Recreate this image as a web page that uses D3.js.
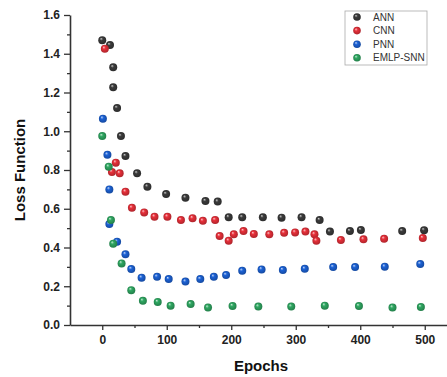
<!DOCTYPE html>
<html>
<head>
<meta charset="utf-8">
<script src="https://cdn.jsdelivr.net/npm/d3@7"></script>
<style>
  body { margin: 0; background: #fff; }
  svg { display: block; font-family: "Liberation Sans", Arial, sans-serif; }
</style>
</head>
<body>
<div id="chart"></div>
<script>
// series names + colours
const seriesNames = ['ANN', 'CNN', 'PNN', 'EMLP-SNN'];
const seriesColors = ['#3b3b3b', '#e8303a', '#1c62d6', '#2fa862'];

// values (epoch, loss)
const annEpochs = [0, 12, 17, 17, 23, 29, 36, 54, 70, 99, 129, 160, 179, 196, 217, 249, 278, 309, 337, 353, 384, 401, 465, 499];
const annLoss = [1.47, 1.445, 1.33, 1.227, 1.12, 0.975, 0.872, 0.783, 0.714, 0.676, 0.657, 0.64, 0.637, 0.556, 0.556, 0.556, 0.554, 0.556, 0.542, 0.482, 0.485, 0.49, 0.485, 0.489];

const cnnEpochs = [4, 15, 21, 27, 36, 46, 65, 81, 101, 122, 140, 156, 175, 182, 196, 204, 219, 235, 259, 282, 299, 315, 329, 332, 370, 405, 437, 497];
const cnnLoss = [1.426, 0.79, 0.838, 0.783, 0.688, 0.605, 0.581, 0.559, 0.559, 0.542, 0.551, 0.538, 0.542, 0.459, 0.435, 0.468, 0.485, 0.47, 0.468, 0.476, 0.478, 0.482, 0.468, 0.435, 0.439, 0.442, 0.445, 0.449];

const pnnEpochs = [1, 8, 11, 11, 23, 36, 45, 61, 85, 103, 129, 152, 173, 192, 217, 247, 280, 314, 358, 392, 438, 493];
const pnnLoss = [1.065, 0.879, 0.70, 0.521, 0.43, 0.365, 0.289, 0.244, 0.249, 0.237, 0.224, 0.237, 0.249, 0.258, 0.28, 0.287, 0.284, 0.29, 0.299, 0.299, 0.301, 0.315];

const snnEpochs = [0, 10, 13.5, 17, 30, 45, 63, 86, 106, 137, 164, 202, 242, 293, 345, 398, 450, 494];
const snnLoss = [0.975, 0.817, 0.542, 0.42, 0.318, 0.18, 0.125, 0.119, 0.1, 0.108, 0.09, 0.098, 0.095, 0.095, 0.1, 0.098, 0.09, 0.093];

const xTickValues = [0, 100, 200, 300, 400, 500];
const yTickValues = [0, 0.2, 0.4, 0.6, 0.8, 1.0, 1.2, 1.4, 1.6];

const allEpochs = [annEpochs, cnnEpochs, pnnEpochs, snnEpochs];
const allLoss = [annLoss, cnnLoss, pnnLoss, snnLoss];

const width = 447, height = 377;
const svg = d3.select('#chart').append('svg')
  .attr('width', width)
  .attr('height', height);

const x = d3.scaleLinear().domain([-50, 550]).range([70, 457]);
const y = d3.scaleLinear().domain([0, 1.6]).range([325, 15]);

// ball gradients
const defs = svg.append('defs');
seriesColors.forEach((c, i) => {
  const g = defs.append('radialGradient')
    .attr('id', 'ball' + i)
    .attr('cx', '0.5').attr('cy', '0.5').attr('r', '0.55')
    .attr('fx', '0.35').attr('fy', '0.3');
  g.append('stop').attr('offset', '0%').attr('stop-color', d3.interpolateRgb(c, '#fff')(0.75));
  g.append('stop').attr('offset', '35%').attr('stop-color', c);
  g.append('stop').attr('offset', '100%').attr('stop-color', d3.rgb(c).darker(0.9));
});

// axes
const axisColor = '#333';
const xAxis = svg.append('g')
  .attr('transform', 'translate(0,' + y(0) + ')')
  .call(d3.axisBottom(x).tickValues(xTickValues).tickSize(5).tickSizeOuter(0).tickPadding(5));
svg.append('g')
  .attr('transform', 'translate(0,' + y(0) + ')')
  .call(d3.axisBottom(x).tickValues(d3.range(50, 550, 100)).tickSize(3).tickFormat(''))
  .call(g => g.select('.domain').remove());

const yAxis = svg.append('g')
  .attr('transform', 'translate(' + x(-50) + ',0)')
  .call(d3.axisLeft(y).tickValues(yTickValues).tickFormat(d3.format('.1f')).tickSize(6).tickSizeOuter(0).tickPadding(4));
svg.append('g')
  .attr('transform', 'translate(' + x(-50) + ',0)')
  .call(d3.axisLeft(y).tickValues(d3.range(0.1, 1.6, 0.2)).tickSize(3).tickFormat(''))
  .call(g => g.select('.domain').remove());

svg.selectAll('.domain').attr('stroke', axisColor).attr('stroke-width', 1.6);
svg.selectAll('.tick line').attr('stroke', axisColor).attr('stroke-width', 1.3);
svg.selectAll('.tick text')
  .attr('fill', '#222')
  .style('font-size', '12px')
  .style('font-weight', 'bold');

// titles
svg.append('text')
  .attr('x', 261)
  .attr('y', 371)
  .attr('text-anchor', 'middle')
  .style('font-size', '15px')
  .style('font-weight', 'bold')
  .attr('fill', '#111')
  .text('Epochs');

svg.append('text')
  .attr('transform', 'translate(25,' + y(0.8) + ') rotate(-90)')
  .attr('text-anchor', 'middle')
  .style('font-size', '15px')
  .style('font-weight', 'bold')
  .attr('fill', '#111')
  .text('Loss Function');

// points
seriesNames.forEach((name, i) => {
  const pts = allEpochs[i].map((e, j) => [e, allLoss[i][j]]);
  svg.append('g')
    .selectAll('circle')
    .data(pts)
    .enter()
    .append('circle')
    .attr('cx', d => x(d[0]))
    .attr('cy', d => y(d[1]))
    .attr('r', 4)
    .attr('fill', 'url(#ball' + i + ')');
});

// legend
const legend = svg.append('g');
legend.append('rect')
  .attr('x', 345).attr('y', 11)
  .attr('width', 82).attr('height', 54)
  .attr('fill', '#fff')
  .attr('stroke', '#aaa')
  .attr('stroke-width', 0.8);
seriesNames.forEach((name, i) => {
  const ly = 17 + i * 13.6;
  legend.append('circle')
    .attr('cx', 357).attr('cy', ly).attr('r', 3.8)
    .attr('fill', 'url(#ball' + i + ')');
  legend.append('text')
    .attr('x', 373).attr('y', ly + 3.6)
    .style('font-size', '10px')
    .attr('fill', '#333')
    .text(name);
});
</script>
</body>
</html>
